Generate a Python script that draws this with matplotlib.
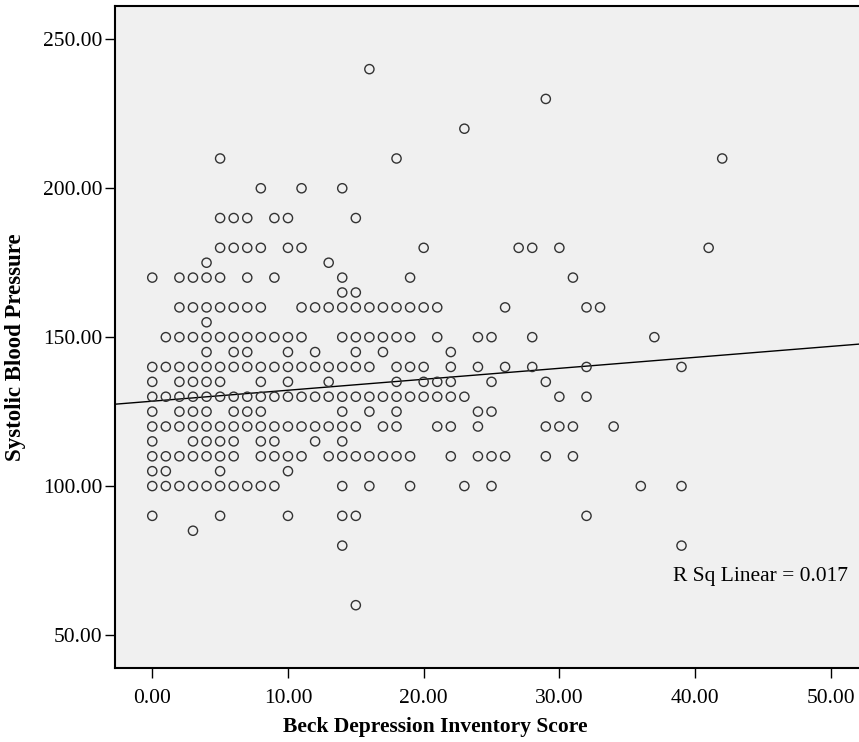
import matplotlib
matplotlib.use("Agg")
import matplotlib.pyplot as plt
from matplotlib.ticker import FormatStrFormatter

plt.rcParams["font.family"] = ["Liberation Serif", "DejaVu Serif"]

# BDI scores seen at each systolic pressure level
sbp_levels = [240, 230, 220, 210, 200, 190, 180, 175, 170, 165, 160, 155, 150,
              145, 140, 135, 130, 125, 120, 115, 110, 105, 100, 90, 85, 80, 60]
bdi_240 = [16]
bdi_230 = [29]
bdi_220 = [23]
bdi_210 = [5, 18, 42]
bdi_200 = [8, 11, 14]
bdi_190 = [5, 6, 7, 9, 10, 15]
bdi_180 = [5, 6, 7, 8, 10, 11, 20, 27, 28, 30, 41]
bdi_175 = [4, 13]
bdi_170 = [0, 2, 3, 4, 5, 7, 9, 14, 19, 31]
bdi_165 = [14, 15]
bdi_160 = [2, 3, 4, 5, 6, 7, 8, 11, 12, 13, 14, 15, 16, 17, 18, 19, 20, 21, 26, 32, 33]
bdi_155 = [4]
bdi_150 = [1, 2, 3, 4, 5, 6, 7, 8, 9, 10, 11, 14, 15, 16, 17, 18, 19, 21, 24, 25, 28, 37]
bdi_145 = [4, 6, 7, 10, 12, 15, 17, 22]
bdi_140 = [0, 1, 2, 3, 4, 5, 6, 7, 8, 9, 10, 11, 12, 13, 14, 15, 16, 18, 19, 20,
           22, 24, 26, 28, 32, 39]
bdi_135 = [0, 2, 3, 4, 5, 8, 10, 13, 18, 20, 21, 22, 25, 29]
bdi_130 = [0, 1, 2, 3, 4, 5, 6, 7, 8, 9, 10, 11, 12, 13, 14, 15, 16, 17, 18, 19,
           20, 21, 22, 23, 30, 32]
bdi_125 = [0, 2, 3, 4, 6, 7, 8, 14, 16, 18, 24, 25]
bdi_120 = [0, 1, 2, 3, 4, 5, 6, 7, 8, 9, 10, 11, 12, 13, 14, 15, 17, 18, 21, 22,
           24, 29, 30, 31, 34]
bdi_115 = [0, 3, 4, 5, 6, 8, 9, 12, 14]
bdi_110 = [0, 1, 2, 3, 4, 5, 6, 8, 9, 10, 11, 13, 14, 15, 16, 17, 18, 19, 22, 24,
           25, 26, 29, 31]
bdi_105 = [0, 1, 5, 10]
bdi_100 = [0, 1, 2, 3, 4, 5, 6, 7, 8, 9, 14, 16, 19, 23, 25, 36, 39]
bdi_90 = [0, 5, 10, 14, 15, 32]
bdi_85 = [3]
bdi_80 = [14, 39]
bdi_60 = [15]

bdi_rows = [bdi_240, bdi_230, bdi_220, bdi_210, bdi_200, bdi_190, bdi_180, bdi_175,
            bdi_170, bdi_165, bdi_160, bdi_155, bdi_150, bdi_145, bdi_140, bdi_135,
            bdi_130, bdi_125, bdi_120, bdi_115, bdi_110, bdi_105, bdi_100, bdi_90,
            bdi_85, bdi_80, bdi_60]

# fit line as drawn in the chart
fit_intercept = 128.5
fit_slope = 0.368
r_sq_label = "R Sq Linear = 0.017"

x_ticks = [0, 10, 20, 30, 40, 50]
y_ticks = [50, 100, 150, 200, 250]

xs, ys = [], []
for level, row in zip(sbp_levels, bdi_rows):
    xs += row
    ys += [level] * len(row)

fig = plt.figure(figsize=(8.59, 7.42), dpi=100)
ax = fig.add_axes([0.1335, 0.1001, 0.8665, 0.8918])
ax.set_facecolor("#f0f0f0")

ax.scatter(xs, ys, s=44, facecolors="none", edgecolors="#333333", linewidths=1.0, zorder=3)

xmin, xmax = -2.77, 52.08
ax.plot([xmin, xmax], [fit_intercept + fit_slope * xmin, fit_intercept + fit_slope * xmax],
        color="black", lw=1.0, zorder=2)
ax.text(38.4, 68.2, r_sq_label, fontsize=15.5, ha="left", va="baseline")

ax.set_xlim(xmin, xmax)
ax.set_ylim(39.0, 261.2)
ax.set_xticks(x_ticks)
ax.set_yticks(y_ticks)
ax.xaxis.set_major_formatter(FormatStrFormatter("%.2f"))
ax.yaxis.set_major_formatter(FormatStrFormatter("%.2f"))
ax.tick_params(axis="x", direction="out", length=7, width=1, pad=8, labelsize=15.5)
ax.tick_params(axis="y", direction="out", length=7, width=1, pad=2, labelsize=15.5)

for side in ["left", "bottom", "top"]:
    ax.spines[side].set_linewidth(1.5)
ax.spines["right"].set_visible(False)

ax.set_xlabel("Beck Depression Inventory Score", fontsize=15.5, fontweight="bold")
ax.set_ylabel("Systolic Blood Pressure", fontsize=16.5, fontweight="bold")
ax.xaxis.set_label_coords(0.431, -0.074)
ax.yaxis.set_label_coords(-0.119, 0.485)

fig.savefig("out.png", dpi=100)
